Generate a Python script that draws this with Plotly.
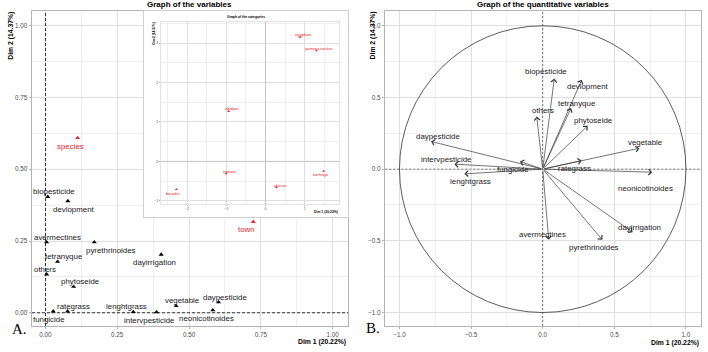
import plotly.graph_objects as go

FONT = "Liberation Sans, Arial, sans-serif"
SERIF = "Liberation Serif, Times New Roman, serif"
RED = "#E8272F"

# ---------------- Panel A : graph of the variables ----------------
var_names = ["biopesticide", "devlopment", "avermectines", "pyrethrinoides", "dayirrigation",
             "tetranyque", "others", "phytoseide", "rategrass", "fungicide", "lenghtgrass",
             "intervpesticide", "vegetable", "daypesticide", "neonicotinoides"]
var_dim1 = [0.008, 0.078, 0.004, 0.170, 0.403, 0.042, 0.004, 0.098, 0.077, 0.027, 0.306,
            0.387, 0.455, 0.603, 0.583]
var_dim2 = [0.404, 0.389, 0.246, 0.246, 0.203, 0.178, 0.134, 0.091, 0.005, 0.005, 0.003,
            0.002, 0.024, 0.037, 0.009]
# label offsets in pixels (dx, dy up)
var_lab_dx = [6, 6, 11, 16.5, -7, 6, -1.5, 6.5, 6, -4, -6.5, -7, 6, 6, -6.5]
var_lab_dy = [5, -8, 5, -8, -8, 5, 5, 5, 5, -8, 5, -8, 5, 5, -8]

qual_names = ["species", "town"]
qual_dim1 = [0.112, 0.724]
qual_dim2 = [0.609, 0.317]
qual_lab_dx = [-7, -6.5]
qual_lab_dy = [-9, -8]

# ---------------- Inset : graph of the categories ----------------
cat_names = ["eggplant", "yamoussoukro", "abidjan", "tomato", "korhogo", "african", "bouake"]
cat_dim1 = [0.88, 1.30, -0.94, -1.00, 1.48, 0.28, -2.27]
cat_dim2 = [3.15, 2.81, 1.27, -0.31, -0.25, -0.66, -0.71]
cat_lab_dx = [3, 2.7, 3, 3.3, -3, 3.7, -3]
cat_lab_dy = [2.5, 2.3, 2.3, 2.3, -3.6, 2.3, -3.7]

# ---------------- Panel B : quantitative variables ----------------
quanti_names = ["biopesticide", "devlopment", "tetranyque", "others", "phytoseide", "vegetable",
                "daypesticide", "intervpesticide", "fungicide", "rategrass", "lenghtgrass",
                "neonicotinoides", "dayirrigation", "pyrethrinoides", "avermectines"]
quanti_dim1 = [0.081, 0.272, 0.198, -0.042, 0.314, 0.675, -0.780, -0.617, -0.159, 0.272,
               -0.547, 0.765, 0.628, 0.416, 0.042]
quanti_dim2 = [0.632, 0.623, 0.426, 0.367, 0.302, 0.146, 0.193, 0.035, 0.053, 0.060,
               -0.033, -0.021, -0.440, -0.493, -0.493]
quanti_lab_dx = [-8, 6.5, 6, 6, 5.5, 6, 7, -7.5, -6.5, -6.7, 5.7, -7, 7, -8, -6.7]
quanti_lab_dy = [7, -7, 5, 6, 5, 6, 5, 5, -7.6, -8, -7.7, -16.7, 4.6, -7.7, 5.7]

dim1_title = "Dim 1 (20.22%)"
dim2_title = "Dim 2 (14.37%)"

W, H = 708, 352


def px(x):
    return x / W


def py(y):
    return (H - y) / H


fig = go.Figure()

# panel A points
fig.add_trace(go.Scatter(x=var_dim1, y=var_dim2, mode="markers", xaxis="x", yaxis="y",
                         marker=dict(symbol="triangle-up", size=4.5, color="black"),
                         hoverinfo="skip"))
fig.add_trace(go.Scatter(x=qual_dim1, y=qual_dim2, mode="markers", xaxis="x", yaxis="y",
                         marker=dict(symbol="triangle-up", size=4.5, color=RED),
                         hoverinfo="skip"))
# inset cover (blank subplot providing the inset box)
fig.add_trace(go.Scatter(x=[], y=[], xaxis="x3", yaxis="y3", hoverinfo="skip"))
# inset points
fig.add_trace(go.Scatter(x=cat_dim1, y=cat_dim2, mode="markers", xaxis="x4", yaxis="y4",
                         marker=dict(symbol="triangle-up", size=2.6, color=RED),
                         hoverinfo="skip"))
# panel B tail points (invisible, keeps subplot)
fig.add_trace(go.Scatter(x=quanti_dim1, y=quanti_dim2, mode="markers", xaxis="x2", yaxis="y2",
                         marker=dict(size=1, color="rgba(0,0,0,0)"), hoverinfo="skip"))

ann = []
for n, x, y, dx, dy in zip(var_names, var_dim1, var_dim2, var_lab_dx, var_lab_dy):
    ann.append(dict(x=x, y=y, xref="x", yref="y", text=n, showarrow=False,
                    xshift=dx, yshift=dy, xanchor="center", yanchor="middle",
                    font=dict(family=FONT, size=7.9, color="#1a1a1a")))
for n, x, y, dx, dy in zip(qual_names, qual_dim1, qual_dim2, qual_lab_dx, qual_lab_dy):
    ann.append(dict(x=x, y=y, xref="x", yref="y", text=n, showarrow=False,
                    xshift=dx, yshift=dy, xanchor="center", yanchor="middle",
                    font=dict(family=FONT, size=7.9, color=RED)))
for n, x, y, dx, dy in zip(cat_names, cat_dim1, cat_dim2, cat_lab_dx, cat_lab_dy):
    ann.append(dict(x=x, y=y, xref="x4", yref="y4", text=n, showarrow=False,
                    xshift=dx, yshift=dy, xanchor="center", yanchor="middle",
                    font=dict(family=FONT, size=4.2, color=RED)))
for n, x, y, dx, dy in zip(quanti_names, quanti_dim1, quanti_dim2, quanti_lab_dx, quanti_lab_dy):
    ann.append(dict(x=x, y=y, xref="x2", yref="y2", ax=0, ay=0, axref="x2", ayref="y2",
                    text="", showarrow=True, arrowhead=4, arrowsize=1.6, arrowwidth=0.7,
                    arrowcolor="#3a3a3a", standoff=0))
    ann.append(dict(x=x, y=y, xref="x2", yref="y2", text=n, showarrow=False,
                    xshift=dx, yshift=dy, xanchor="center", yanchor="middle",
                    font=dict(family=FONT, size=7.9, color="#1a1a1a")))

# titles
ann += [
    dict(x=px(189), y=py(4.8), xref="paper", yref="paper", text="<b>Graph of the variables</b>",
         showarrow=False, xanchor="center", yanchor="middle", font=dict(family=FONT, size=8, color="black")),
    dict(x=px(542.7), y=py(4.8), xref="paper", yref="paper",
         text="<b>Graph of the quantitative variables</b>",
         showarrow=False, xanchor="center", yanchor="middle", font=dict(family=FONT, size=8, color="black")),
    dict(x=px(347.7), y=py(342.3), xref="paper", yref="paper", text="<b>" + dim1_title + "</b>",
         showarrow=False, xanchor="right", yanchor="middle", font=dict(family=FONT, size=6.8, color="black")),
    dict(x=px(700.7), y=py(342.5), xref="paper", yref="paper", text="<b>" + dim1_title + "</b>",
         showarrow=False, xanchor="right", yanchor="middle", font=dict(family=FONT, size=6.8, color="black")),
    dict(x=px(11), y=py(35.7), xref="paper", yref="paper", text="<b>" + dim2_title + "</b>",
         textangle=-90, showarrow=False, xanchor="center", yanchor="middle",
         font=dict(family=FONT, size=6.8, color="black")),
    dict(x=px(372.7), y=py(35.7), xref="paper", yref="paper", text="<b>" + dim2_title + "</b>",
         textangle=-90, showarrow=False, xanchor="center", yanchor="middle",
         font=dict(family=FONT, size=6.8, color="black")),
    # inset titles
    dict(x=px(245.7), y=py(16.5), xref="paper", yref="paper", text="<b>Graph of the categories</b>",
         showarrow=False, xanchor="center", yanchor="middle", font=dict(family=FONT, size=3.4, color="black")),
    dict(x=px(340), y=py(212.3), xref="paper", yref="paper", text="<b>" + dim1_title + "</b>",
         showarrow=False, xanchor="right", yanchor="middle", font=dict(family=FONT, size=3.4, color="black")),
    dict(x=px(153.8), y=py(33), xref="paper", yref="paper", text="<b>" + dim2_title + "</b>",
         textangle=-90, showarrow=False, xanchor="center", yanchor="middle",
         font=dict(family=FONT, size=3.2, color="black")),
    # panel letters
    dict(x=px(19.9), y=py(329.3), xref="paper", yref="paper", text="A.",
         showarrow=False, xanchor="center", yanchor="middle", font=dict(family=SERIF, size=15, color="black")),
    dict(x=px(372.8), y=py(328.3), xref="paper", yref="paper", text="B.",
         showarrow=False, xanchor="center", yanchor="middle", font=dict(family=SERIF, size=15, color="black")),
]

DASH_A = "3px,2px"
DASH_B = "2px,2px"
shapes = [
    # panel A reference lines
    dict(type="line", xref="x domain", yref="y", x0=0, x1=1, y0=0, y1=0,
         line=dict(color="black", width=0.8, dash=DASH_A), layer="above"),
    dict(type="line", xref="x", yref="y domain", x0=0, x1=0, y0=0, y1=1,
         line=dict(color="black", width=0.8, dash=DASH_A), layer="above"),
    # inset reference lines
    dict(type="line", xref="x4 domain", yref="y4", x0=0, x1=1, y0=0, y1=0,
         line=dict(color="#8c8c8c", width=0.6, dash="1px,1px"), layer="above"),
    dict(type="line", xref="x4", yref="y4 domain", x0=0, x1=0, y0=0, y1=1,
         line=dict(color="#8c8c8c", width=0.6, dash="1px,1px"), layer="above"),
    # panel B reference lines and circle
    dict(type="line", xref="x2 domain", yref="y2", x0=0, x1=1, y0=0, y1=0,
         line=dict(color="#555555", width=0.8, dash=DASH_B), layer="above"),
    dict(type="line", xref="x2", yref="y2 domain", x0=0, x1=0, y0=0, y1=1,
         line=dict(color="#555555", width=0.8, dash=DASH_B), layer="above"),
    dict(type="circle", xref="x2", yref="y2", x0=-1, y0=-1, x1=1, y1=1,
         line=dict(color="#333333", width=0.8), layer="above"),
]

tickfont = dict(family=FONT, size=6.3, color="#4D4D4D")


def axis(domain, rng, dtick, fmt, anchor, tf=tickfont, ticklen=2.5, grid=True, minor_dtick=None,
         linecolor="#B3B3B3"):
    d = dict(domain=domain, range=rng, anchor=anchor, showline=True, mirror=True,
             linecolor=linecolor, linewidth=0.8, ticks="outside", ticklen=ticklen, tickwidth=0.6,
             tickcolor="#B3B3B3", tickfont=tf, tick0=0, dtick=dtick, tickformat=fmt,
             showgrid=grid, gridcolor="#DEDEDE", gridwidth=0.7, zeroline=False, fixedrange=True)
    if minor_dtick:
        d["minor"] = dict(tick0=0, dtick=minor_dtick, showgrid=True, gridcolor="#EFEFEF", gridwidth=0.5)
    return d


ydom = [py(326), py(11)]
layout = dict(
    width=W, height=H, autosize=False, margin=dict(l=0, r=0, t=0, b=0),
    paper_bgcolor="white", plot_bgcolor="white", showlegend=False,
    xaxis=axis([px(32), px(348)], [-0.047, 1.054], 0.25, ".2f", "y", minor_dtick=0.125),
    yaxis=axis(ydom, [-0.046, 1.051], 0.25, ".2f", "x", minor_dtick=0.125),
    xaxis2=axis([px(385.3), px(700.7)], [-1.099, 1.103], 0.5, ".1f", "y2", minor_dtick=0.25),
    yaxis2=axis(ydom, [-1.094, 1.103], 0.5, ".1f", "x2", minor_dtick=0.25),
    xaxis3=dict(domain=[px(144), px(347.5)], range=[0, 1], anchor="y3", showline=True, mirror=True,
                linecolor="#CFCFCF", linewidth=0.8, showgrid=False, zeroline=False,
                showticklabels=False, ticks="", fixedrange=True),
    yaxis3=dict(domain=[py(217), py(11)], range=[0, 1], anchor="x3", showline=True, mirror=True,
                linecolor="#CFCFCF", linewidth=0.8, showgrid=False, zeroline=False,
                showticklabels=False, ticks="", fixedrange=True),
    xaxis4=axis([px(160.7), px(339.3)], [-2.67, 1.88], 1, "d", "y4",
                tf=dict(family=FONT, size=3.5, color="#4D4D4D"), ticklen=1, minor_dtick=0.5,
                linecolor="#E3E3E3"),
    yaxis4=axis([py(204.3), py(21.7)], [-1.09, 3.54], 1, "d", "x4",
                tf=dict(family=FONT, size=3.5, color="#4D4D4D"), ticklen=1, minor_dtick=0.5,
                linecolor="#E3E3E3"),
    annotations=ann,
    shapes=shapes,
)
fig.update_layout(**layout)
fig.write_html("out.html")
